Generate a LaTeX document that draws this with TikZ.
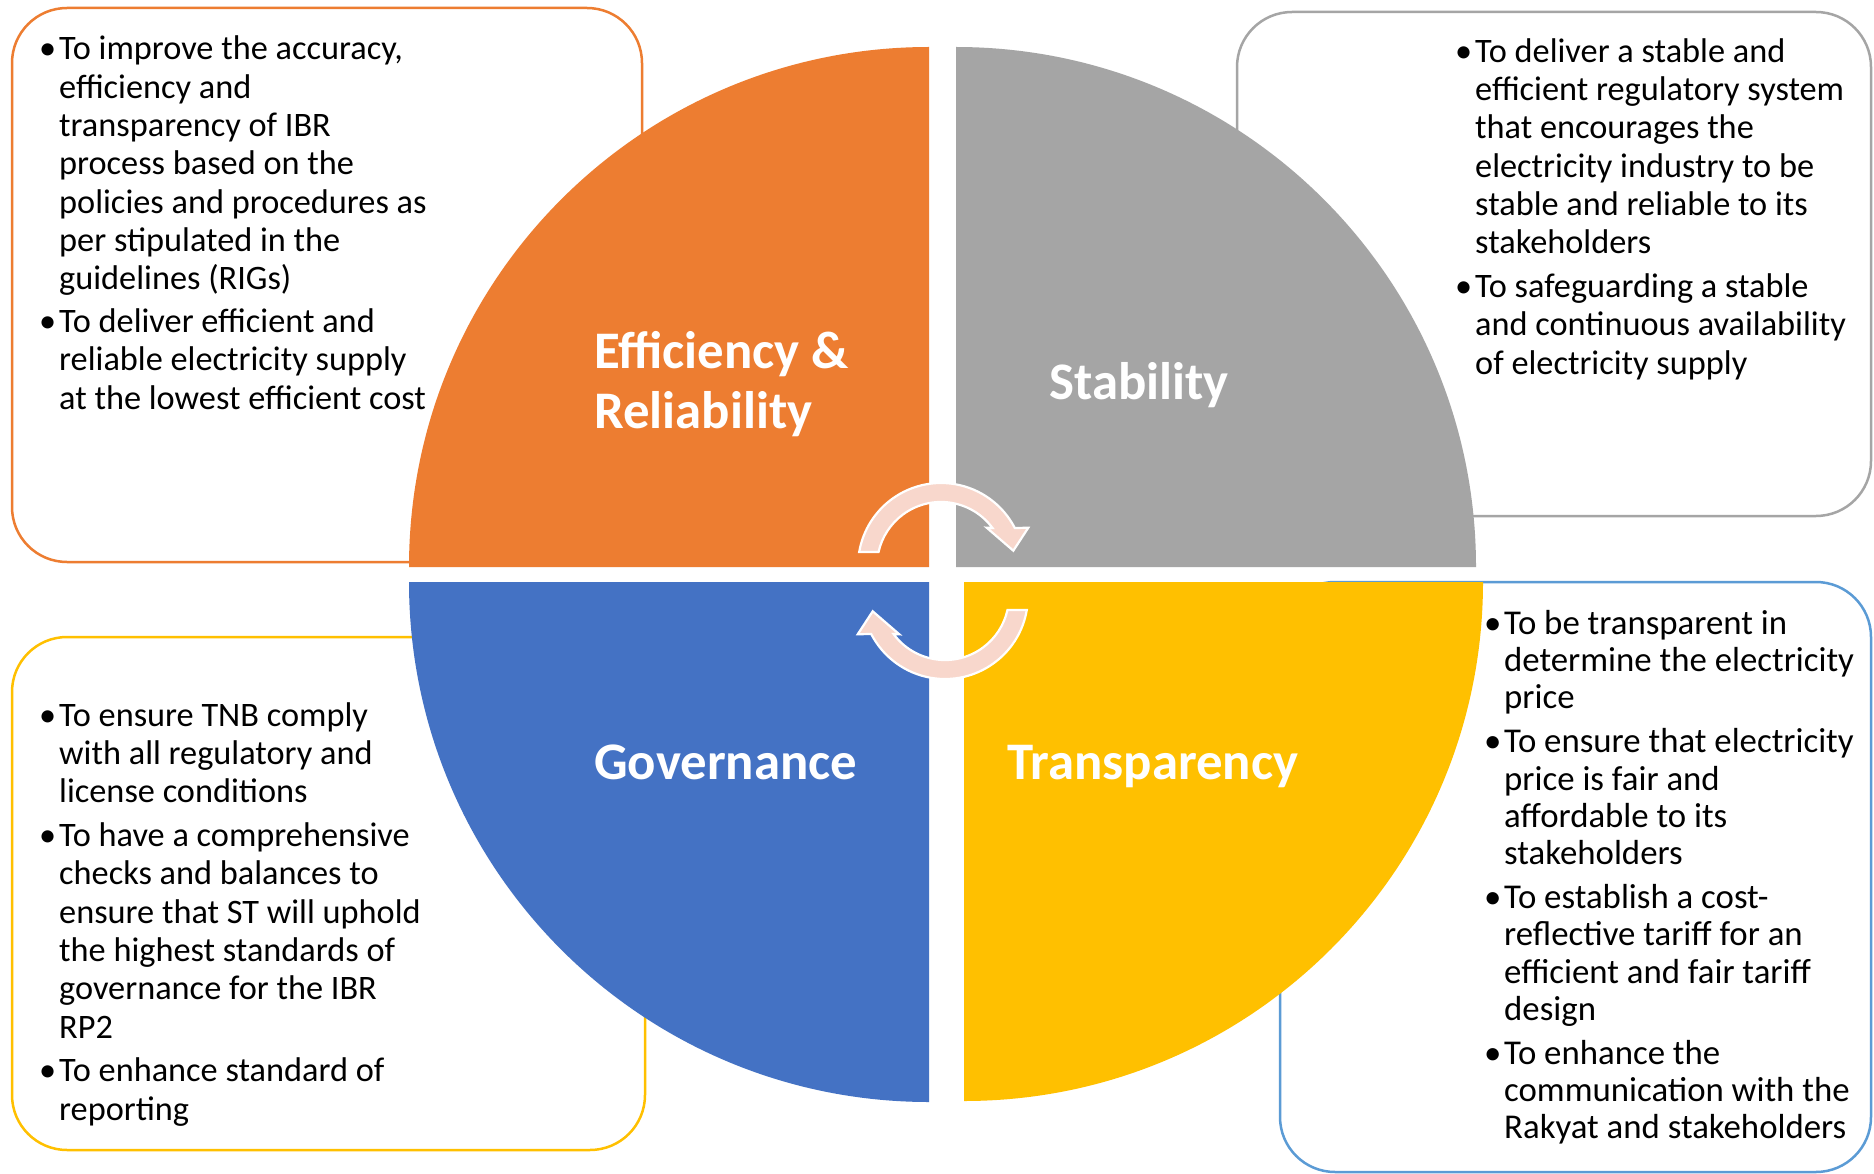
\documentclass[tikz,border=0pt]{standalone}
\usepackage{fontspec}
\setmainfont{Carlito}
\usetikzlibrary{calc}
\definecolor{qorange}{HTML}{ED7D31}
\definecolor{qgray}{HTML}{A5A5A5}
\definecolor{qblue}{HTML}{4472C4}
\definecolor{qyellow}{HTML}{FFC000}
\definecolor{lblue}{HTML}{5B9BD5}
\definecolor{arrowpink}{HTML}{F8D7CC}
\newcommand\bul{\rule{0pt}{26pt}\makebox[20pt][l]{\textbullet}}
\newcommand\ind{\hspace*{20pt}}
\tikzset{
  infobox/.style={line width=2.5pt, rounded corners=55pt},
  bultext/.style={anchor=north west, align=left, inner sep=0pt, text=black,
                  font=\fontsize{34.3}{38.3}\selectfont},
  titletext/.style={anchor=base west, inner sep=0pt, text=white,
                  font=\fontsize{52.8}{60}\selectfont\bfseries},
  cyclearrow/.style={fill=arrowpink, draw=white, line width=2.2pt, line join=miter},
}
\begin{document}
\begin{tikzpicture}[x=1pt,y=-1pt]
\useasboundingbox (0,0) rectangle (1874,1174);
\fill[white] (0,0) rectangle (1874,1174);

% surrounding boxes
\draw[infobox, draw=qorange] (12,8) rectangle (642,562);
\draw[infobox, draw=qgray] (1237,12) rectangle (1871,516);
\draw[infobox, draw=qyellow] (12,637) rectangle (645,1150);
\draw[infobox, draw=lblue] (1280,582) rectangle (1871,1172);

% quarter discs
\fill[qorange] (929,567) -- (409,567) arc[start angle=180,end angle=270,radius=520] -- cycle;
\fill[qgray] (956,567) -- (956,47) arc[start angle=270,end angle=360,radius=520] -- cycle;
\fill[qblue] (929,582) -- (929,1102) arc[start angle=90,end angle=180,radius=520] -- cycle;
\fill[qyellow] (964,582) -- (1483,582) arc[start angle=0,end angle=90,radius=519] -- cycle;

% titles
\node[titletext] (eff) at (594,368) {Efficiency \&};
\node[titletext] (rel) at (594,428.5) {Reliability};
\node[titletext] (stab) at (1049,399) {Stability};
\node[titletext] (gov) at (594,779) {Governance};
\node[titletext] (trans) at (1007,779) {Transparency};

% cycle arrows
\path[cyclearrow] (859.2,552) arc[start angle=189.7,end angle=332.8,radius=83]
   -- (1028.3,527.7) -- (1013.3,550.7) -- (986.7,527.7) -- (992.5,528)
   arc[start angle=323.6,end angle=192.6,radius=64] -- cycle;
\begin{scope}[rotate around={180:(943,581)}]
\path[cyclearrow] (859.2,552) arc[start angle=189.7,end angle=332.8,radius=83]
   -- (1028.3,527.7) -- (1013.3,550.7) -- (986.7,527.7) -- (992.5,528)
   arc[start angle=323.6,end angle=192.6,radius=64] -- cycle;
\end{scope}

% bullet texts (y = first baseline - 26)
\node[bultext] (teff) at (39,33.6) {\bul To improve the accuracy,\\
\ind efficiency and\\
\ind transparency of IBR\\
\ind process based on the\\
\ind policies and procedures as\\
\ind per stipulated in the\\
\ind guidelines (RIGs)\\[4.5pt]
\bul To deliver efficient and\\
\ind reliable electricity supply\\
\ind at the lowest efficient cost};

\node[bultext] (tstab) at (1455,36) {\bul To deliver a stable and\\
\ind efficient regulatory system\\
\ind that encourages the\\
\ind electricity industry to be\\
\ind stable and reliable to its\\
\ind stakeholders\\[5.5pt]
\bul To safeguarding a stable\\
\ind and continuous availability\\
\ind of electricity supply};

\node[bultext] (tgov) at (39,700) {\bul To ensure TNB comply\\
\ind with all regulatory and\\
\ind license conditions\\[5.5pt]
\bul To have a comprehensive\\
\ind checks and balances to\\
\ind ensure that ST will uphold\\
\ind the highest standards of\\
\ind governance for the IBR\\
\ind RP2\\[5.5pt]
\bul To enhance standard of\\
\ind reporting};

\node[bultext, font=\fontsize{34.8}{37.2}\selectfont] (ttrans) at (1484,608) {\bul To be transparent in\\
\ind determine the electricity\\
\ind price\\[7pt]
\bul To ensure that electricity\\
\ind price is fair and\\
\ind affordable to its\\
\ind stakeholders\\[7pt]
\bul To establish a cost-\\
\ind reflective tariff for an\\
\ind efficient and fair tariff\\
\ind design\\[7pt]
\bul To enhance the\\
\ind communication with the\\
\ind Rakyat and stakeholders};
\end{tikzpicture}
\end{document}
